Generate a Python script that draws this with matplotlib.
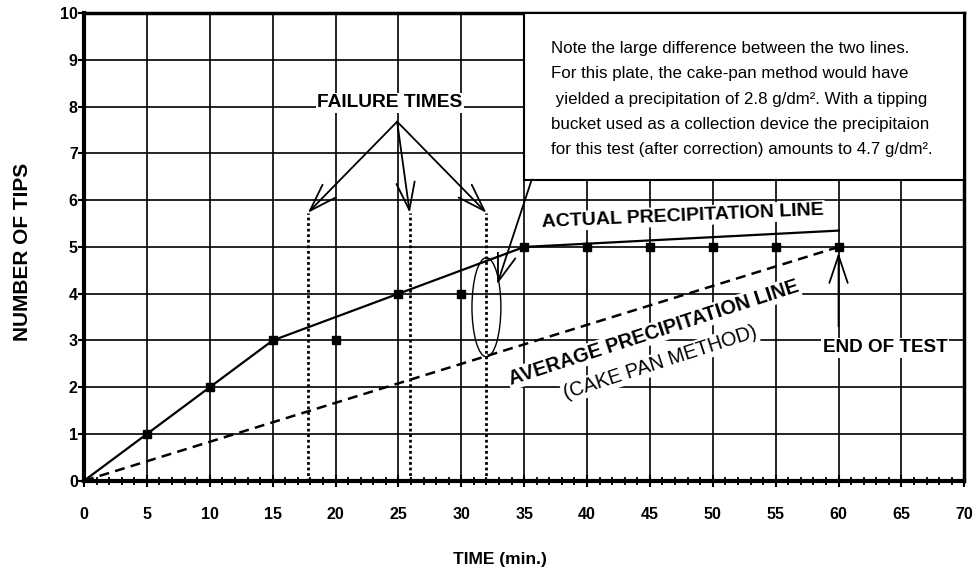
import matplotlib.pyplot as plt
from matplotlib.patches import Ellipse, Rectangle

plt.rcParams['font.family'] = ['Liberation Sans', 'DejaVu Sans']

# measured tips (square markers)
time_pts = [5, 10, 15, 20, 25, 30, 35, 40, 45, 50, 55, 60]
tips = [1, 2, 3, 3, 4, 4, 5, 5, 5, 5, 5, 5]

# actual precipitation line (solid)
actual_x = [0, 5, 10, 15, 25, 35, 60]
actual_y = [0, 1, 2, 3, 4, 5, 5.35]

# average precipitation line (cake pan method, dashed)
avg_x = [0, 60]
avg_y = [0, 5]

failure_times = [17.8, 25.9, 32.0]
failure_top = 5.73

note_lines = [
    "Note the large difference between the two lines.",
    "For this plate, the cake-pan method would have",
    " yielded a precipitation of 2.8 g/dm\u00b2. With a tipping",
    "bucket used as a collection device the precipitaion",
    "for this test (after correction) amounts to 4.7 g/dm\u00b2.",
]

fig = plt.figure(figsize=(9.77, 5.73), dpi=100)
ax = fig.add_axes([0.086, 0.161, 0.901, 0.816])

ax.set_xlim(0, 70)
ax.set_ylim(0, 10)

# grid
for gx in range(5, 70, 5):
    ax.axvline(gx, color='black', lw=1.2, zorder=1)
for gy in range(1, 10):
    ax.axhline(gy, color='black', lw=1.2, zorder=1)

ax.plot(actual_x, actual_y, color='black', lw=1.6, zorder=3)
ax.plot(avg_x, avg_y, color='black', lw=1.8, dashes=(4, 2.5), zorder=3)
ax.plot(time_pts, tips, 's', color='black', ms=6, zorder=4)

for ft in failure_times:
    ax.plot([ft, ft], [0, failure_top], color='black', lw=2, ls=(0, (1, 1)), zorder=3)

# note box
ax.add_patch(Rectangle((35, 6.44), 35, 3.56, fc='white', ec='black', lw=1.5, zorder=5))
for i, line in enumerate(note_lines):
    ax.text(37.1, 9.24 - i * 0.54, line, fontsize=12.2, va='center', ha='left', zorder=6)

arr = dict(arrowstyle='->,head_length=0.9,head_width=0.3', color='black', lw=1.3,
           shrinkA=0, shrinkB=0, mutation_scale=22)

# failure times label + arrows
ax.text(24.3, 8.08, "FAILURE TIMES", fontsize=13.8, fontweight='bold', ha='center', va='center',
        bbox=dict(fc='white', ec='none', pad=1), zorder=5)
for ft in failure_times:
    ax.annotate("", xy=(ft, failure_top), xytext=(24.9, 7.68), arrowprops=arr, zorder=5)

# ellipse + pointer from note box
ax.add_patch(Ellipse((32.0, 3.71), 2.3, 2.12, fill=False, ec='black', lw=1, zorder=4))
ax.annotate("", xy=(32.85, 4.2), xytext=(35.6, 6.44), arrowprops=arr, zorder=5)

ax.text(47.6, 5.66, "ACTUAL PRECIPITATION LINE", fontsize=14, fontweight='bold', ha='center',
        va='center', rotation=2.5, rotation_mode='anchor',
        bbox=dict(fc='white', ec='none', pad=1), zorder=5)
ax.text(45.3, 3.16, "AVERAGE PRECIPITATION LINE", fontsize=14.3, fontweight='bold', ha='center',
        va='center', rotation=18, rotation_mode='anchor',
        bbox=dict(fc='white', ec='none', pad=1), zorder=5)
ax.text(45.8, 2.52, "(CAKE PAN METHOD)", fontsize=14.2, ha='center', va='center',
        rotation=18, rotation_mode='anchor',
        bbox=dict(fc='white', ec='none', pad=1), zorder=5)

ax.text(63.7, 2.84, "END OF TEST", fontsize=13.6, fontweight='bold', ha='center', va='center',
        bbox=dict(fc='white', ec='none', pad=1), zorder=5)
ax.annotate("", xy=(60, 4.88), xytext=(60, 3.3), arrowprops=arr, zorder=5)

# ticks
ax.set_xticks(range(0, 71, 5))
ax.set_xticks(range(0, 71), minor=True)
ax.set_yticks(range(0, 11))
ax.tick_params(axis='x', which='major', direction='inout', length=8, width=1.5, pad=15, labelsize=11.5)
ax.tick_params(axis='x', which='minor', direction='inout', length=6, width=1.3)
ax.tick_params(axis='y', which='major', direction='out', length=4, width=1.5, pad=0.5, labelsize=11.5)
for lab in ax.get_xticklabels() + ax.get_yticklabels():
    lab.set_fontweight('bold')

for side in ['left', 'bottom']:
    ax.spines[side].set_linewidth(3)
for side in ['top', 'right']:
    ax.spines[side].set_linewidth(2.5)

ax.set_xlabel("TIME (min.)", fontsize=12.5, fontweight='bold')
ax.xaxis.set_label_coords(0.473, -0.152)
ax.set_ylabel("NUMBER OF TIPS", fontsize=15, fontweight='bold')
ax.yaxis.set_label_coords(-0.059, 0.49)

plt.savefig("out.png", dpi=100)
